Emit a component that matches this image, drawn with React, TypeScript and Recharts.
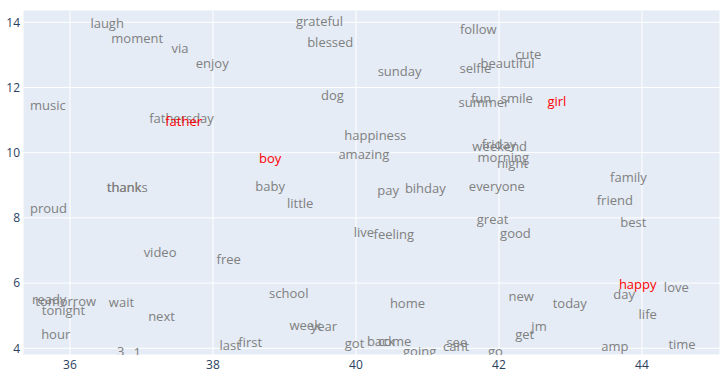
import { ScatterChart, Scatter, XAxis, YAxis, CartesianGrid } from "recharts";

// word embedding positions (2D projection)
const grayWords = [
  "laugh", "moment", "via", "enjoy", "music", "fathersday", "grateful", "blessed", "sunday", "dog",
  "follow", "selfie", "beautiful", "cute", "fun", "summer", "smile", "happiness", "amazing", "baby",
  "little", "pay", "bihday", "live", "feeling", "weekend", "friday", "morning", "night", "everyone",
  "great", "good", "family", "friend", "best", "thank", "thanks", "proud", "video", "free",
  "ready", "tomorrow", "tonight", "wait", "next", "hour", "3", "1", "school", "home",
  "week", "year", "first", "last", "got", "back", "come", "going", "see", "cant",
  "go", "new", "today", "day", "love", "life", "jm", "get", "amp", "time",
];
const grayX = [
  36.52, 36.94, 37.54, 37.99, 35.69, 37.56, 39.49, 39.64, 40.61, 39.67,
  41.71, 41.67, 42.12, 42.41, 41.75, 41.79, 42.25, 40.27, 40.11, 38.8,
  39.22, 40.45, 40.97, 40.11, 40.53, 42.01, 42.0, 42.06, 42.19, 41.97,
  41.91, 42.23, 43.81, 43.62, 43.88, 36.76, 36.8, 35.7, 37.26, 38.22,
  35.71, 35.94, 35.91, 36.72, 37.28, 35.8, 36.71, 36.94, 39.06, 40.72,
  39.29, 39.55, 38.52, 38.24, 39.98, 40.35, 40.54, 40.89, 41.41, 41.4,
  41.95, 42.31, 42.99, 43.75, 44.48, 44.08, 42.56, 42.36, 43.62, 44.56,
];
const grayY = [
  13.95, 13.5, 13.21, 12.75, 11.46, 11.06, 14.02, 13.37, 12.49, 11.77,
  13.78, 12.59, 12.74, 13.02, 11.65, 11.55, 11.65, 10.52, 9.94, 8.96,
  8.45, 8.84, 8.89, 7.55, 7.49, 10.19, 10.24, 9.86, 9.66, 8.96,
  7.96, 7.53, 9.23, 8.52, 7.87, 8.93, 8.93, 8.3, 6.94, 6.74,
  5.5, 5.43, 5.17, 5.4, 4.99, 4.41, 3.89, 3.88, 5.69, 5.39,
  4.71, 4.67, 4.18, 4.08, 4.16, 4.21, 4.21, 3.9, 4.19, 4.06,
  3.9, 5.6, 5.36, 5.65, 5.86, 5.04, 4.67, 4.42, 4.06, 4.13,
];

const redWords = ["father", "boy", "girl", "happy"];
const redX = [37.59, 38.8, 42.81, 43.94];
const redY = [10.95, 9.81, 11.58, 5.96];

const xTicks = [36, 38, 40, 42, 44];
const yTicks = [4, 6, 8, 10, 12, 14];

const grayData = grayWords.map((w, i) => ({ word: w, x: grayX[i], y: grayY[i] }));
const redData = redWords.map((w, i) => ({ word: w, x: redX[i], y: redY[i] }));

const font = "'Open Sans', sans-serif";

const wordShape = (color: string) => (props: any) => (
  <text
    x={props.cx}
    y={props.cy}
    dy="0.35em"
    textAnchor="middle"
    fill={color}
    fontSize={13}
    fontFamily={font}
  >
    {props.payload.word}
  </text>
);

const tickStyle = { fill: "#2a3f5f", fontSize: 12, fontFamily: font };

export default function App() {
  return (
    <div style={{ position: "absolute", left: 0, top: 0, background: "#fff" }}>
      <ScatterChart width={727} height={377} margin={{ top: 10, right: 7, bottom: 0, left: 0 }}>
        <CartesianGrid fill="#E5ECF6" stroke="#fff" strokeWidth={1} />
        <XAxis
          type="number"
          dataKey="x"
          domain={[35.343, 45.091]}
          ticks={xTicks}
          allowDataOverflow
          axisLine={false}
          tickLine={false}
          tickSize={0}
          tickMargin={5}
          height={22}
          tick={tickStyle}
        />
        <YAxis
          type="number"
          dataKey="y"
          domain={[3.794, 14.377]}
          ticks={yTicks}
          allowDataOverflow
          axisLine={false}
          tickLine={false}
          tickSize={0}
          tickMargin={3}
          width={23}
          tick={tickStyle}
        />
        <Scatter data={grayData} shape={wordShape("#808080")} isAnimationActive={false} />
        <Scatter data={redData} shape={wordShape("#ff0000")} isAnimationActive={false} />
      </ScatterChart>
    </div>
  );
}
